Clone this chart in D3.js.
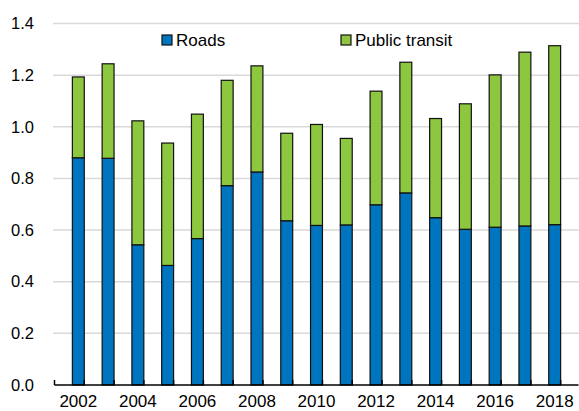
<!DOCTYPE html>
<html>
<head>
<meta charset="utf-8">
<script src="https://cdn.jsdelivr.net/npm/d3@7"></script>
<style>
  body { margin: 0; background: #fff; }
  text { font-family: "Liberation Sans", Arial, sans-serif; fill: #000; }
</style>
</head>
<body>
<svg id="chart" width="579" height="411"></svg>
<script>
// values
var years = ["2002", "2003", "2004", "2005", "2006", "2007", "2008", "2009", "2010",
             "2011", "2012", "2013", "2014", "2015", "2016", "2017", "2018"];
var roads = [0.88, 0.878, 0.543, 0.463, 0.567, 0.772, 0.825, 0.636, 0.618,
             0.62, 0.698, 0.744, 0.648, 0.603, 0.611, 0.616, 0.621];
var transit = [0.313, 0.366, 0.48, 0.474, 0.482, 0.408, 0.411, 0.339, 0.391,
               0.335, 0.44, 0.506, 0.384, 0.486, 0.59, 0.673, 0.693];
var yTicks = [0, 0.2, 0.4, 0.6, 0.8, 1.0, 1.2, 1.4];
var xLabels = ["2002", "2004", "2006", "2008", "2010", "2012", "2014", "2016", "2018"];
var seriesNames = ["Roads", "Public transit"];
var colors = ["#0075BF", "#8DC63F"];

var svg = d3.select("#chart");

var x = d3.scaleBand().domain(years).range([54.5, 578.5]).padding(0.6);
var y = d3.scaleLinear().domain([0, 1.4]).range([385, 23.5]);

// gridlines
svg.append("g").selectAll("line")
  .data(yTicks.slice(1))
  .enter().append("line")
  .attr("x1", 53).attr("x2", 579)
  .attr("y1", function(d) { return y(d); })
  .attr("y2", function(d) { return y(d); })
  .attr("stroke", "#d9d9d9")
  .attr("stroke-width", 1.5);

// y labels
svg.append("g").selectAll("text")
  .data(yTicks)
  .enter().append("text")
  .attr("x", 34)
  .attr("y", function(d) { return y(d); })
  .attr("dy", "0.35em")
  .attr("text-anchor", "end")
  .style("font-size", "16.5px")
  .text(function(d) { return d3.format(".1f")(d); });

// stacked bars
var table = years.map(function(yr, i) { return { year: yr, roads: roads[i], transit: transit[i] }; });
var stack = d3.stack().keys(["roads", "transit"])(table);

svg.append("g").selectAll("g")
  .data(stack)
  .enter().append("g")
  .attr("fill", function(d, i) { return colors[i]; })
  .selectAll("rect")
  .data(function(d) { return d; })
  .enter().append("rect")
  .attr("x", function(d) { return x(d.data.year); })
  .attr("width", x.bandwidth())
  .attr("y", function(d) { return y(d[1]); })
  .attr("height", function(d) { return y(d[0]) - y(d[1]); })
  .attr("stroke", "#111")
  .attr("stroke-width", 1.2);

// x axis line and ticks (ticks point up, between bars)
var step = x.step();
var x0 = x.range()[0];
svg.append("line")
  .attr("x1", x0).attr("x2", x.range()[1])
  .attr("y1", y(0)).attr("y2", y(0))
  .attr("stroke", "#000").attr("stroke-width", 1.5);

svg.append("g").selectAll("line")
  .data(d3.range(years.length + 1))
  .enter().append("line")
  .attr("x1", function(i) { return x0 + i * step; })
  .attr("x2", function(i) { return x0 + i * step; })
  .attr("y1", y(0)).attr("y2", y(0) - 5)
  .attr("stroke", "#000").attr("stroke-width", 1.5);

// x labels
svg.append("g").selectAll("text")
  .data(xLabels)
  .enter().append("text")
  .attr("x", function(d) { return x(d) + x.bandwidth() / 2; })
  .attr("y", 407)
  .attr("text-anchor", "middle")
  .style("font-size", "17px")
  .text(function(d) { return d; });

// legend
var legendX = [162, 341];
var legend = svg.append("g").selectAll("g")
  .data(seriesNames)
  .enter().append("g")
  .attr("transform", function(d, i) { return "translate(" + legendX[i] + ",35)"; });

legend.append("rect")
  .attr("width", 10).attr("height", 10)
  .attr("fill", function(d, i) { return colors[i]; })
  .attr("stroke", "#111").attr("stroke-width", 1.2);

legend.append("text")
  .attr("x", 14).attr("y", 5)
  .attr("dy", "0.35em")
  .style("font-size", "17px")
  .text(function(d) { return d; });
</script>
</body>
</html>
